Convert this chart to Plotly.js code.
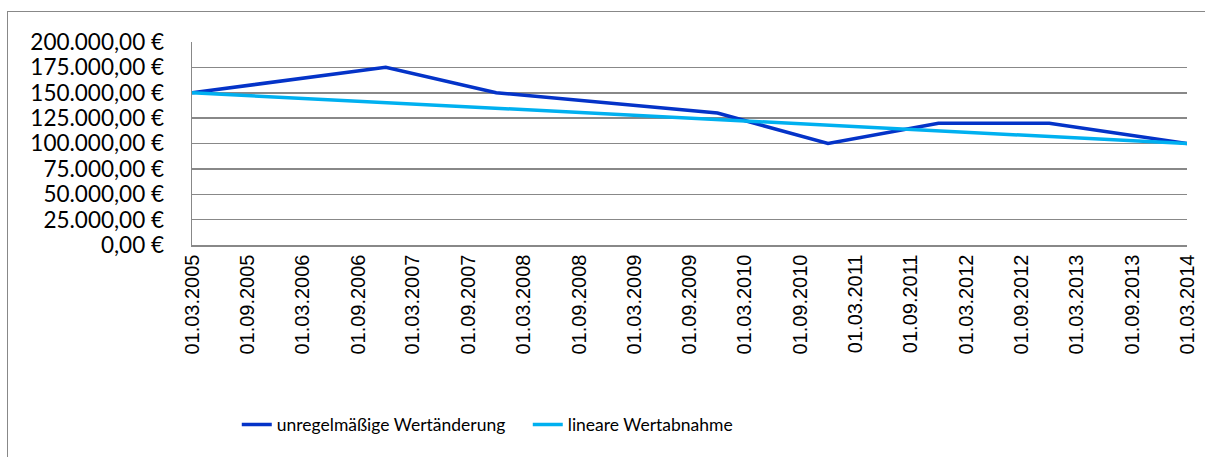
<!DOCTYPE html>
<html>
<head>
<meta charset="utf-8">
<script src="https://cdn.plot.ly/plotly-3.0.1.min.js"></script>
<style>
  html, body { margin: 0; padding: 0; background: #fff; overflow: hidden; }
  #chart { position: absolute; left: 0; top: 0; width: 1205px; height: 457px; }
  #frame { position: absolute; left: 7px; top: 11px; width: 1300px; height: 600px;
           border: 1.5px solid #888; pointer-events: none; }
</style>
</head>
<body>
<div id="chart"></div>
<div id="frame"></div>
<script>
// Series: unregelmäßige Wertänderung
const irregularDates  = ['2005-03-01', '2006-12-01', '2007-12-01', '2009-12-01', '2010-12-01', '2011-12-01', '2012-12-01', '2014-03-01'];
const irregularValues = [150000, 175000, 150000, 130000, 100000, 120000, 120000, 100000];

// Series: lineare Wertabnahme
const linearDates  = ['2005-03-01', '2014-03-01'];
const linearValues = [150000, 100000];

// X tick positions and labels
const xTickVals = ['2005-03-01', '2005-09-01', '2006-03-01', '2006-09-01', '2007-03-01', '2007-09-01',
                   '2008-03-01', '2008-09-01', '2009-03-01', '2009-09-01', '2010-03-01', '2010-09-01',
                   '2011-03-01', '2011-09-01', '2012-03-01', '2012-09-01', '2013-03-01', '2013-09-01',
                   '2014-03-01'];
const xTickText = ['01.03.2005', '01.09.2005', '01.03.2006', '01.09.2006', '01.03.2007', '01.09.2007',
                   '01.03.2008', '01.09.2008', '01.03.2009', '01.09.2009', '01.03.2010', '01.09.2010',
                   '01.03.2011', '01.09.2011', '01.03.2012', '01.09.2012', '01.03.2013', '01.09.2013',
                   '01.03.2014'];

// Y tick positions and labels
const yTickVals = [0, 25000, 50000, 75000, 100000, 125000, 150000, 175000, 200000];
const yTickText = ['0,00 €', '25.000,00 €', '50.000,00 €', '75.000,00 €', '100.000,00 €',
                   '125.000,00 €', '150.000,00 €', '175.000,00 €', '200.000,00 €'];

const traces = [
  {
    x: irregularDates, y: irregularValues, type: 'scatter', mode: 'lines',
    name: 'unregelmäßige Wertänderung',
    line: { color: '#0433C8', width: 3.5 }
  },
  {
    x: linearDates, y: linearValues, type: 'scatter', mode: 'lines',
    name: 'lineare Wertabnahme',
    line: { color: '#00B0F0', width: 3.5 }
  }
];

const layout = {
  width: 1205, height: 457,
  margin: { l: 191.5, r: 18, t: 41.7, b: 212 },
  paper_bgcolor: '#fff', plot_bgcolor: '#fff',
  showlegend: true,
  font: { family: 'Lato, sans-serif', size: 20, color: '#000' },
  xaxis: {
    type: 'date',
    range: [xTickVals[0], xTickVals[xTickVals.length - 1]],
    tickmode: 'array', tickvals: xTickVals, ticktext: xTickText,
    tickangle: -90,
    tickfont: { family: 'Liberation Sans, Arial, sans-serif', size: 20, color: '#000' },
    showgrid: false, zeroline: false,
    showline: true, linecolor: '#888', linewidth: 1.5,
    ticks: '', ticklabelstandoff: 0
  },
  yaxis: {
    range: [0, 200000],
    tickmode: 'array', tickvals: yTickVals, ticktext: yTickText,
    tickfont: { family: 'Lato, sans-serif', size: 22.5, color: '#000' },
    showgrid: true, gridcolor: '#888', gridwidth: 1.5,
    zeroline: false,
    showline: true, linecolor: '#888', linewidth: 1.5,
    ticks: '', ticklabelstandoff: 22
  },
  legend: {
    orientation: 'h',
    x: 0.045, xanchor: 'left',
    y: -0.885, yanchor: 'middle',
    entrywidth: 246,
    font: { family: 'Lato, sans-serif', size: 17.5, color: '#000' },
    bgcolor: 'rgba(0,0,0,0)'
  }
};

Plotly.newPlot('chart', traces, layout, { displayModeBar: false, staticPlot: true });
</script>
</body>
</html>
